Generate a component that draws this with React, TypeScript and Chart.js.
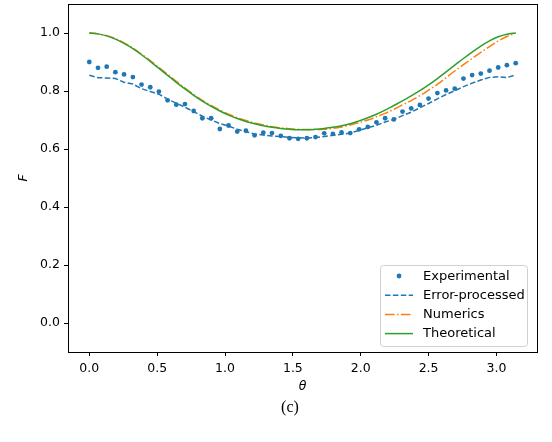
import React, { useEffect, useRef } from "react";
import { Chart, registerables } from "chart.js";

Chart.register(...registerables);

const theta = [
  0.0, 0.064, 0.128, 0.192, 0.256, 0.321, 0.385, 0.449, 0.513, 0.577,
  0.641, 0.705, 0.769, 0.833, 0.898, 0.962, 1.026, 1.09, 1.154, 1.218,
  1.282, 1.346, 1.411, 1.475, 1.539, 1.603, 1.667, 1.731, 1.795, 1.859,
  1.923, 1.988, 2.052, 2.116, 2.18, 2.244, 2.308, 2.372, 2.436, 2.5,
  2.565, 2.629, 2.693, 2.757, 2.821, 2.885, 2.949, 3.013, 3.077, 3.142,
];

const experimental = [
  0.9, 0.88, 0.884, 0.865, 0.857, 0.848, 0.822, 0.813, 0.798, 0.768,
  0.753, 0.755, 0.731, 0.706, 0.706, 0.669, 0.681, 0.66, 0.663, 0.647,
  0.656, 0.655, 0.645, 0.637, 0.635, 0.637, 0.641, 0.654, 0.652, 0.657,
  0.655, 0.668, 0.676, 0.692, 0.706, 0.702, 0.729, 0.74, 0.752, 0.774,
  0.793, 0.802, 0.808, 0.843, 0.855, 0.86, 0.87, 0.881, 0.889, 0.896,
];

const errorProcessed = [
  0.854, 0.846, 0.845, 0.843, 0.83, 0.824, 0.808, 0.798, 0.789, 0.772,
  0.758, 0.744, 0.729, 0.713, 0.7, 0.688, 0.679, 0.668, 0.66, 0.652,
  0.648, 0.645, 0.643, 0.64, 0.639, 0.638, 0.64, 0.643, 0.647, 0.651,
  0.655, 0.664, 0.673, 0.682, 0.693, 0.702, 0.715, 0.727, 0.742, 0.757,
  0.773, 0.788, 0.801, 0.815, 0.827, 0.838, 0.847, 0.849, 0.846, 0.856,
];

const numerics = [
  1.0, 0.997, 0.991, 0.981, 0.966, 0.948, 0.927, 0.905, 0.881, 0.857,
  0.833, 0.81, 0.788, 0.768, 0.75, 0.734, 0.72, 0.708, 0.698, 0.69,
  0.683, 0.677, 0.673, 0.67, 0.668, 0.667, 0.667, 0.668, 0.671, 0.676,
  0.683, 0.691, 0.7, 0.711, 0.723, 0.737, 0.752, 0.767, 0.784, 0.803,
  0.823, 0.846, 0.869, 0.891, 0.912, 0.933, 0.953, 0.972, 0.988, 1.0,
];

const theoretical = [
  1.0, 0.997, 0.99, 0.979, 0.964, 0.946, 0.925, 0.902, 0.878, 0.854,
  0.83, 0.807, 0.785, 0.765, 0.747, 0.731, 0.717, 0.705, 0.695, 0.687,
  0.68, 0.675, 0.671, 0.668, 0.666, 0.666, 0.668, 0.671, 0.675, 0.68,
  0.687, 0.697, 0.708, 0.72, 0.734, 0.75, 0.766, 0.783, 0.801, 0.821,
  0.843, 0.866, 0.889, 0.912, 0.934, 0.955, 0.973, 0.987, 0.996, 1.0,
];

const xTicks = [0, 0.5, 1.0, 1.5, 2.0, 2.5, 3.0];
const yTicks = [0, 0.2, 0.4, 0.6, 0.8, 1.0];

const BLUE = "#1f77b4";
const ORANGE = "#ff7f0e";
const GREEN = "#2ca02c";
const FONT = "'DejaVu Sans', sans-serif";

const pts = (ys: number[]) => theta.map((x, i) => ({ x, y: ys[i] }));

const framePlugin = {
  id: "frame",
  afterDatasetsDraw(chart: any) {
    const { ctx, chartArea } = chart;
    ctx.save();
    ctx.strokeStyle = "#000";
    ctx.lineWidth = 1;
    ctx.strokeRect(
      Math.round(chartArea.left) + 0.5,
      Math.round(chartArea.top) + 0.5,
      Math.round(chartArea.right - chartArea.left),
      Math.round(chartArea.bottom - chartArea.top)
    );
    ctx.restore();
  },
};

const legendPlugin = {
  id: "mplLegend",
  afterDraw(chart: any) {
    const { ctx, chartArea } = chart;
    const w = 147;
    const h = 81;
    const x = Math.round(chartArea.right - 10 - w);
    const y = Math.round(chartArea.bottom - 6 - h);
    ctx.save();
    ctx.beginPath();
    (ctx as any).roundRect(x + 0.5, y + 0.5, w, h, 3);
    ctx.fillStyle = "rgba(255,255,255,0.8)";
    ctx.fill();
    ctx.strokeStyle = "#d0d0d0";
    ctx.lineWidth = 1;
    ctx.stroke();
    ctx.font = `13px ${FONT}`;
    ctx.textBaseline = "middle";
    ctx.textAlign = "left";
    chart.data.datasets.forEach((ds: any, i: number) => {
      const cy = y + 11 + i * 19.2;
      const x0 = x + 5;
      const x1 = x + 33;
      if (!ds.showLine) {
        ctx.beginPath();
        ctx.fillStyle = ds.backgroundColor;
        ctx.arc((x0 + x1) / 2, cy, 2.4, 0, Math.PI * 2);
        ctx.fill();
      } else {
        ctx.beginPath();
        ctx.setLineDash(ds.borderDash || []);
        ctx.strokeStyle = ds.borderColor;
        ctx.lineWidth = ds.borderWidth;
        ctx.moveTo(x0, cy);
        ctx.lineTo(x1, cy);
        ctx.stroke();
        ctx.setLineDash([]);
      }
      ctx.fillStyle = "#000";
      ctx.fillText(ds.label, x + 43, cy + 0.5);
    });
    ctx.restore();
  },
};

export default function App() {
  const ref = useRef<HTMLCanvasElement | null>(null);

  useEffect(() => {
    if (!ref.current) return;
    const chart = new Chart(ref.current, {
      type: "scatter",
      data: {
        datasets: [
          {
            label: "Experimental",
            data: pts(experimental),
            showLine: false,
            backgroundColor: BLUE,
            borderColor: BLUE,
            pointRadius: 2.4,
            pointBorderWidth: 0,
            order: 4,
          },
          {
            label: "Error-processed",
            data: pts(errorProcessed),
            showLine: true,
            borderColor: BLUE,
            backgroundColor: BLUE,
            borderWidth: 1.5,
            borderDash: [5.5, 2.4],
            pointRadius: 0,
            order: 3,
          },
          {
            label: "Numerics",
            data: pts(numerics),
            showLine: true,
            borderColor: ORANGE,
            backgroundColor: ORANGE,
            borderWidth: 1.5,
            borderDash: [9.6, 2.4, 1.5, 2.4],
            pointRadius: 0,
            cubicInterpolationMode: "monotone",
            order: 2,
          },
          {
            label: "Theoretical",
            data: pts(theoretical),
            showLine: true,
            borderColor: GREEN,
            backgroundColor: GREEN,
            borderWidth: 1.5,
            pointRadius: 0,
            cubicInterpolationMode: "monotone",
            order: 1,
          },
        ] as any,
      },
      options: {
        responsive: false,
        animation: false,
        devicePixelRatio: 1,
        layout: { padding: { left: 0, right: 15, top: 3, bottom: 0 } },
        plugins: { legend: { display: false }, tooltip: { enabled: false } },
        scales: {
          x: {
            type: "linear",
            min: -0.157,
            max: 3.299,
            afterFit: (s: any) => {
              s.height = 90;
              s.paddingLeft = 0;
              s.paddingRight = 0;
            },
            afterBuildTicks: (s: any) => {
              s.ticks = xTicks.map((v) => ({ value: v }));
            },
            border: { display: true, color: "#000", width: 1 },
            grid: {
              drawOnChartArea: false,
              drawTicks: true,
              tickLength: 4,
              color: "#000",
              lineWidth: 1,
            },
            ticks: {
              color: "#000",
              font: { family: FONT, size: 12.5 },
              padding: 5,
              maxRotation: 0,
              autoSkip: false,
              callback: (v: any) => Number(v).toFixed(1),
            },
            title: {
              display: true,
              text: "θ",
              color: "#000",
              font: { family: FONT, size: 12.5, style: "italic" },
              padding: { top: 0, bottom: 48 },
            },
          },
          y: {
            type: "linear",
            min: -0.1,
            max: 1.1,
            afterFit: (s: any) => {
              s.width = 68;
              s.paddingTop = 0;
              s.paddingBottom = 0;
            },
            afterBuildTicks: (s: any) => {
              s.ticks = yTicks.map((v) => ({ value: v }));
            },
            border: { display: true, color: "#000", width: 1 },
            grid: {
              drawOnChartArea: false,
              drawTicks: true,
              tickLength: 4,
              color: "#000",
              lineWidth: 1,
            },
            ticks: {
              color: "#000",
              font: { family: FONT, size: 12.5 },
              padding: 4,
              autoSkip: false,
              callback: (v: any) => Number(v).toFixed(1),
            },
            title: {
              display: true,
              text: "F",
              color: "#000",
              font: { family: FONT, size: 12.5, style: "italic" },
              padding: { top: 16.5, bottom: 0 },
            },
          },
        },
      } as any,
      plugins: [framePlugin, legendPlugin],
    });
    return () => chart.destroy();
  }, []);

  return (
    <div
      style={{
        position: "fixed",
        left: 0,
        top: 0,
        width: 552,
        height: 442,
        background: "#fff",
      }}
    >
      <canvas ref={ref} width={552} height={442} style={{ display: "block" }} />
      <div
        style={{
          position: "absolute",
          left: 240,
          width: 100,
          top: 397,
          textAlign: "center",
          fontFamily: "'Liberation Serif', 'Times New Roman', serif",
          fontSize: 16,
          lineHeight: "20px",
          color: "#000",
        }}
      >
        (c)
      </div>
    </div>
  );
}
